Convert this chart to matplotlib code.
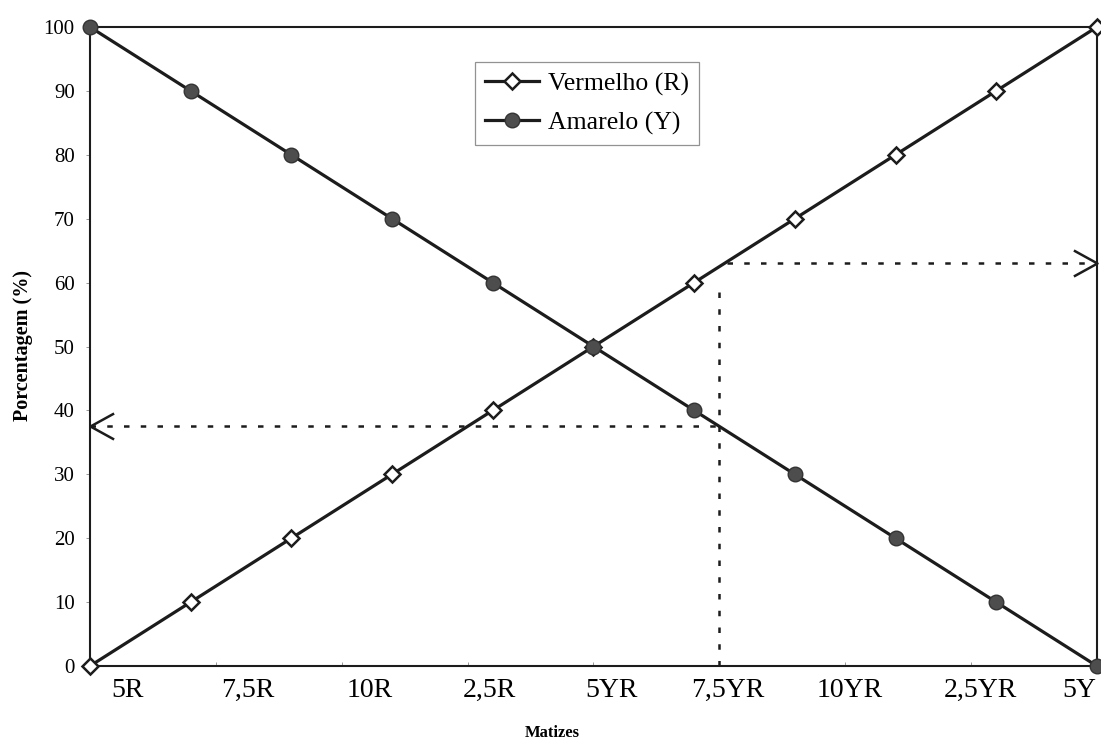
import matplotlib.pyplot as plt
from matplotlib.transforms import blended_transform_factory


OUTPUT_FILE = "out.png"

# Mixture steps between pure red (5R) and pure yellow (5Y)
STEPS = [0, 1, 2, 3, 4, 5, 6, 7, 8, 9, 10]
RED_PERCENT = [0, 10, 20, 30, 40, 50, 60, 70, 80, 90, 100]
YELLOW_PERCENT = [100, 90, 80, 70, 60, 50, 40, 30, 20, 10, 0]

HUE_TICKS = [0, 1.25, 2.5, 3.75, 5, 6.25, 7.5, 8.75, 10]
HUE_LABELS = ["5R", "7,5R", "10R", "2,5R", "5YR", "7,5YR", "10YR", "2,5YR", "5Y"]
HUE_LABEL_X = [0.37, 1.57, 2.78, 3.97, 5.18, 6.33, 7.55, 8.84, 9.82]

PERCENT_TICKS = [0, 10, 20, 30, 40, 50, 60, 70, 80, 90, 100]

# Reading for the 7,5YR hue
READ_HUE = 6.25
READ_RED = 63
READ_YELLOW = 37.5

SERIF = "Liberation Serif"
LINE_COLOR = "#1c1c1c"

# open chevron used as arrow head, tip at the origin
CHEVRON = [(-1.0, 0.55), (0.0, 0.0), (-1.0, -0.55)]
CHEVRON_LEFT = [(1.0, 0.55), (0.0, 0.0), (1.0, -0.55)]


def draw_series(axis):
    axis.plot(
        STEPS,
        RED_PERCENT,
        color=LINE_COLOR,
        linewidth=2.3,
        marker="D",
        markersize=8.5,
        markerfacecolor="white",
        markeredgecolor=LINE_COLOR,
        markeredgewidth=1.8,
        label="Vermelho (R)",
        clip_on=False,
        zorder=3,
    )
    axis.plot(
        STEPS,
        YELLOW_PERCENT,
        color=LINE_COLOR,
        linewidth=2.3,
        marker="o",
        markersize=10.5,
        markerfacecolor="#4d4d4d",
        markeredgecolor="#333333",
        markeredgewidth=1.0,
        label="Amarelo (Y)",
        clip_on=False,
        zorder=4,
    )


def draw_reading(axis):
    dotted = dict(color=LINE_COLOR, linewidth=1.8, linestyle=(0, (2.2, 4.5)), zorder=2)

    axis.plot([READ_HUE, READ_HUE], [0, READ_RED - 3], **dotted)
    axis.plot([READ_HUE + 0.08, 10], [READ_RED, READ_RED], **dotted)
    axis.plot([0, READ_HUE], [READ_YELLOW, READ_YELLOW], **dotted)

    axis.plot(
        [10], [READ_RED],
        marker=CHEVRON, markersize=34, markerfacecolor="none",
        markeredgecolor=LINE_COLOR, markeredgewidth=1.8,
        clip_on=False, zorder=5,
    )
    axis.plot(
        [0], [READ_YELLOW],
        marker=CHEVRON_LEFT, markersize=34, markerfacecolor="none",
        markeredgecolor=LINE_COLOR, markeredgewidth=1.8,
        clip_on=False, zorder=5,
    )


def style_axes(figure, axis):
    axis.set_xlim(0, 10)
    axis.set_ylim(0, 100)

    for spine in axis.spines.values():
        spine.set_linewidth(1.5)
        spine.set_color(LINE_COLOR)

    axis.set_xticks(HUE_TICKS)
    axis.set_xticklabels([])
    axis.tick_params(axis="x", direction="in", length=3, width=0.6, color="#888888")

    axis.set_yticks(PERCENT_TICKS)
    axis.set_yticklabels([str(value) for value in PERCENT_TICKS], fontfamily=SERIF, fontsize=15)
    axis.tick_params(axis="y", direction="out", length=3, width=0.6, color="#888888", pad=8)

    label_transform = blended_transform_factory(axis.transData, axis.transAxes)
    for position, label in zip(HUE_LABEL_X, HUE_LABELS):
        axis.text(
            position,
            -0.038,
            label,
            transform=label_transform,
            ha="center",
            va="center",
            fontfamily=SERIF,
            fontsize=20,
        )

    figure.text(
        0.021, 0.535, "Porcentagem (%)",
        rotation=90, ha="center", va="center",
        fontfamily=SERIF, fontweight="bold", fontsize=14.5,
    )
    figure.text(
        0.502, 0.012, "Matizes",
        ha="center", va="center",
        fontfamily=SERIF, fontweight="bold", fontsize=12,
    )

    legend = axis.legend(
        loc="upper left",
        bbox_to_anchor=(0.4314, 0.9164),
        bbox_transform=figure.transFigure,
        borderaxespad=0,
        prop={"family": SERIF, "size": 18.5},
        frameon=True,
        fancybox=False,
        handlelength=2.1,
        handletextpad=0.35,
        borderpad=0.4,
        labelspacing=0.6,
    )
    legend.get_frame().set_edgecolor("#777777")
    legend.get_frame().set_linewidth(0.9)


def main() -> None:
    figure = plt.figure(figsize=(11.01, 7.42), dpi=100)
    axis = figure.add_axes([0.0817, 0.1024, 0.9146, 0.8612])

    draw_series(axis)
    draw_reading(axis)
    style_axes(figure, axis)

    figure.savefig(OUTPUT_FILE, dpi=100)
    plt.close(figure)


if __name__ == "__main__":
    main()
